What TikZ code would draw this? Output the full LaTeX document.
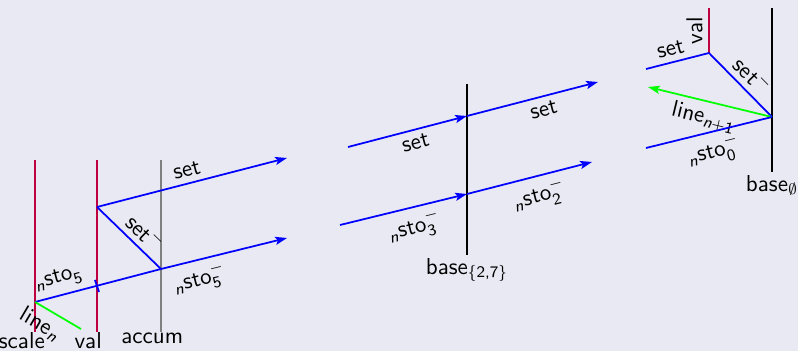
\documentclass[tikz,border=0pt]{standalone}
\usepackage{amsmath,amssymb}
\usepackage{tikz}
\usetikzlibrary{arrows.meta}
\definecolor{slidebg}{RGB}{233,233,243}
\newcommand{\nsto}[2]{${}_{\text{\itshape n}}\text{sto}_{\text{#1}}^{#2}$}

\begin{document}
\begin{tikzpicture}[x=0.016cm, y=-0.016cm, font=\sffamily\fontsize{10.5}{12}\selectfont,
    lifeline/.style={thick},
    msg/.style={thick, blue},
    msgarrow/.style={thick, blue, -{Stealth[length=1.9mm, width=1.3mm, inset=0.4mm]}},
    lineleft/.style={thick, green},
    lbl/.style={sloped, inner sep=2.5pt, text=black},
    endlbl/.style={below, inner sep=0pt, text=black}]
    % Background
    \fill[slidebg] (0,0) rectangle (798,351);
    \useasboundingbox (0,0) rectangle (798,351);
    % Left group: lifelines
    \coordinate (scaleT) at (35,160);
    \coordinate (scaleB) at (35,332);
    \coordinate (valT) at (97,160);
    \coordinate (valB) at (97,332);
    \coordinate (accT) at (161,160);
    \coordinate (accB) at (161,332);
    \draw[lifeline, purple] (scaleT) -- (scaleB) node[endlbl, xshift=-6] (scaleL) {scale};
    \draw[lifeline, purple] (valT) -- (valB) node[endlbl, xshift=-4] (valL) {val};
    \draw[lifeline, gray] (accT) -- (accB) node[endlbl, xshift=-4] (accL) {accum};
    % Left group: messages
    \coordinate (p) at (35,302);
    \coordinate (q) at (161,269);
    \coordinate (r) at (97,207);
    \coordinate (qEnd) at (287,238);
    \coordinate (rEnd) at (287,158);
    \coordinate (lnEnd) at (81,329);
    \coordinate (tickA) at (95,280);
    \coordinate (tickB) at (99,292);
    \draw[msg] (p) -- node[lbl, above, pos=0.22] {\nsto{5}{}} (q);
    \draw[msgarrow] (q) -- node[lbl, below, pos=0.27] {\nsto{5}{-}} (qEnd);
    \draw[msgarrow] (r) -- node[lbl, above, pos=0.49] {set} (rEnd);
    \draw[msg] (r) -- node[lbl, above, pos=0.59] {$\text{set}^{-}$} (q);
    \draw[msg] (tickA) -- (tickB);
    \draw[lineleft] (p) -- node[lbl, below, pos=0.3] {$\text{line}_{\text{\itshape n}}$} (lnEnd);
    % Middle group
    \coordinate (midT) at (467,84);
    \coordinate (midB) at (467,255);
    \draw[lifeline] (midT) -- (midB) node[endlbl, inner sep=1pt] (midL) {$\text{base}_{\text{\{2,7\}}}$};
    \coordinate (setA) at (348,147);
    \coordinate (setB) at (467,116);
    \coordinate (setC) at (598,82);
    \coordinate (stoA) at (340,225);
    \coordinate (stoB) at (467,194);
    \coordinate (stoC) at (592,162);
    \draw[msgarrow] (setA) -- node[lbl, below, pos=0.54] {set} (setB);
    \draw[msgarrow] (setB) -- node[lbl, below, pos=0.56] {set} (setC);
    \draw[msgarrow] (stoA) -- node[lbl, below, pos=0.55] {\nsto{3}{-}} (stoB);
    \draw[msgarrow] (stoB) -- node[lbl, below, pos=0.54] {\nsto{2}{-}} (stoC);
    % Right group
    \coordinate (rtT) at (772,8);
    \coordinate (rtB) at (772,172);
    \coordinate (rvT) at (709,8);
    \coordinate (rvB) at (709,53);
    \draw[lifeline] (rtT) -- (rtB) node[endlbl, inner sep=1pt] (rtL) {$\text{base}_{\emptyset}$};
    \draw[lifeline, purple] (rvB) -- node[lbl, above, midway] {val} (rvT);
    \coordinate (s) at (772,117);
    \coordinate (rsetA) at (646,69);
    \coordinate (rlnEnd) at (648,87);
    \coordinate (rstoA) at (646,148);
    \draw[msg] (rsetA) -- node[lbl, above, pos=0.44] {set} (rvB);
    \draw[msg] (rvB) -- node[lbl, above, pos=0.52] {$\text{set}^{-}$} (s);
    \draw[lineleft, {Stealth[length=1.9mm, width=1.3mm, inset=0.4mm]}-] (rlnEnd) -- node[lbl, below, pos=0.48] {$\text{line}_{\text{\itshape n\upshape +1}}$} (s);
    \draw[msg] (rstoA) -- node[lbl, below, pos=0.5] {\nsto{0}{-}} (s);
\end{tikzpicture}
\end{document}
